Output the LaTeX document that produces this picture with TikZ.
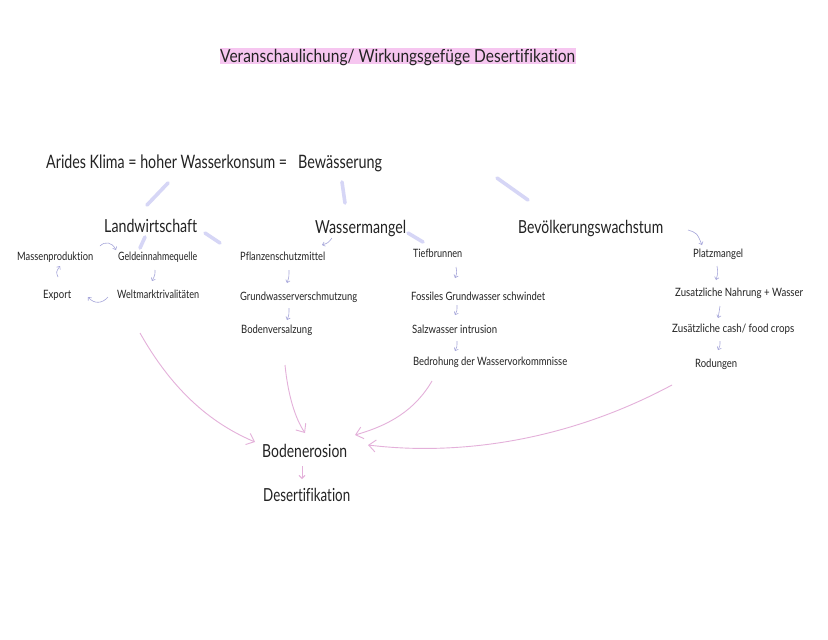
\documentclass[tikz,border=0pt]{standalone}
\usepackage{fontspec}
\setmainfont{Lato}[Ligatures={NoCommon}]
\usetikzlibrary{arrows.meta}
\definecolor{ink}{RGB}{35,35,35}
\definecolor{lav}{RGB}{214,214,246}
\definecolor{lavthin}{RGB}{165,165,218}
\definecolor{pinkline}{RGB}{228,176,218}
\definecolor{hl}{RGB}{246,198,240}
\newcommand{\tw}[2]{\resizebox{#1pt}{\height}{#2}}
\tikzset{
  txt/.style={text=ink, inner sep=0pt, anchor=base west},
  hugetxt/.style={txt, font=\fontsize{18.5}{22}\selectfont},
  bigtxt/.style={txt, font=\fontsize{18}{22}\selectfont},
  smalltxt/.style={txt, font=\fontsize{11.5}{14}\selectfont},
  thickline/.style={draw=lav, line width=3.6pt, line cap=round},
  tinyarrow/.style={draw=lavthin, line width=0.6pt, -{Straight Barb[length=2.5pt,width=4.5pt]}},
  pinkarrow/.style={draw=pinkline, line width=0.9pt, -{Straight Barb[length=7pt,width=12pt]}},
}
\begin{document}
\begin{tikzpicture}[x=1pt,y=-1pt]
\fill[white] (0,0) rectangle (828,640);
\useasboundingbox (0,0) rectangle (828,640);

% title
\fill[hl] (220,48) rectangle (576,63.5);
\node[bigtxt] (title) at (220,62) {\tw{355}{Veranschaulichung/ Wirkungsgefüge Desertifikation}};

% main line
\node[hugetxt] (klima) at (46,168) {\tw{241}{Arides Klima = hoher Wasserkonsum =}};
\node[hugetxt] (bew) at (298,168) {\tw{84}{Bewässerung}};

\node[bigtxt] (land) at (104,232) {\tw{93}{Landwirtschaft}};
\node[bigtxt] (wasser) at (315,233) {\tw{91}{Wassermangel}};
\node[bigtxt] (bev) at (518,233) {\tw{145}{Bevölkerungswachstum}};

% Landwirtschaft cycle
\node[smalltxt] (massen) at (17,260) {\tw{76}{Massenproduktion}};
\node[smalltxt] (geld) at (118,260) {\tw{79}{Geldeinnahmequelle}};
\node[smalltxt] (export) at (43,298) {\tw{28}{Export}};
\node[smalltxt] (welt) at (117,298) {\tw{82}{Weltmarktrivalitäten}};

% Wassermangel left column
\node[smalltxt] (pflanz) at (240,260) {\tw{85}{Pflanzenschutzmittel}};
\node[smalltxt] (grundv) at (240,300) {\tw{117}{Grundwasserverschmutzung}};
\node[smalltxt] (bodenv) at (241,333) {\tw{71}{Bodenversalzung}};

% Wassermangel right column
\node[smalltxt] (tief) at (413,257) {\tw{49}{Tiefbrunnen}};
\node[smalltxt] (fossil) at (411,300) {\tw{134}{Fossiles Grundwasser schwindet}};
\node[smalltxt] (salz) at (412,333) {\tw{85}{Salzwasser intrusion}};
\node[smalltxt] (bedroh) at (413,365) {\tw{154}{Bedrohung der Wasservorkommnisse}};

% Bevoelkerung column
\node[smalltxt] (platz) at (693,257) {\tw{50}{Platzmangel}};
\node[smalltxt] (nahrung) at (675,296) {\tw{128}{Zusatzliche Nahrung + Wasser}};
\node[smalltxt] (cash) at (672,332) {\tw{122}{Zusätzliche cash/ food crops}};
\node[smalltxt] (rod) at (695,367) {\tw{42}{Rodungen}};

% result
\node[bigtxt] (erosion) at (262,457) {\tw{85}{Bodenerosion}};
\node[bigtxt] (desert) at (263,501) {\tw{87}{Desertifikation}};

% thick lavender strokes
\coordinate (k1) at (168,183); \coordinate (k1e) at (147,205);
\coordinate (b1) at (342,182); \coordinate (b1e) at (345,203);
\coordinate (v1) at (497,178); \coordinate (v1e) at (528,200);
\coordinate (la) at (145,237); \coordinate (lae) at (140,248);
\coordinate (lb) at (205,233); \coordinate (lbe) at (220,243);
\coordinate (wa) at (408,233); \coordinate (wae) at (423,242);
\draw[thickline] (k1) -- (k1e);
\draw[thickline] (b1) -- (b1e);
\draw[thickline] (v1) -- (v1e);
\draw[thickline] (la) -- (lae);
\draw[thickline] (lb) -- (lbe);
\draw[thickline] (wa) -- (wae);

% tiny arrows
\coordinate (t1s) at (100,246); \coordinate (t1e) at (116,250);
\draw[tinyarrow] (t1s) .. controls (105,241) and (112,242) .. (t1e);
\coordinate (t2s) at (155,270); \coordinate (t2e) at (152,281);
\draw[tinyarrow] (t2s) .. controls (155,275) .. (t2e);
\coordinate (t3s) at (108,297); \coordinate (t3e) at (88,297);
\draw[tinyarrow] (t3s) .. controls (102,304) and (94,304) .. (t3e);
\coordinate (t4s) at (58,277); \coordinate (t4e) at (60,266);
\draw[tinyarrow] (t4s) .. controls (56,272) .. (t4e);
\coordinate (t5s) at (332,238); \coordinate (t5e) at (322,245);
\draw[tinyarrow] (t5s) .. controls (328,243) .. (t5e);
\coordinate (t6s) at (289,270); \coordinate (t6e) at (287,283);
\draw[tinyarrow] (t6s) .. controls (289,277) .. (t6e);
\coordinate (t7s) at (289,308); \coordinate (t7e) at (287,320);
\draw[tinyarrow] (t7s) .. controls (289,315) .. (t7e);
\coordinate (t8s) at (456,267); \coordinate (t8e) at (455,278);
\draw[tinyarrow] (t8s) .. controls (457,273) .. (t8e);
\coordinate (t9s) at (457,305); \coordinate (t9e) at (455,315);
\draw[tinyarrow] (t9s) .. controls (457,311) .. (t9e);
\coordinate (t10s) at (457,341); \coordinate (t10e) at (455,351);
\draw[tinyarrow] (t10s) .. controls (457,347) .. (t10e);
\coordinate (t11s) at (688,230); \coordinate (t11e) at (702,245);
\draw[tinyarrow] (t11s) .. controls (697,233) .. (t11e);
\coordinate (t12s) at (717,266); \coordinate (t12e) at (716,280);
\draw[tinyarrow] (t12s) .. controls (718,273) .. (t12e);
\coordinate (t13s) at (720,306); \coordinate (t13e) at (718,318);
\draw[tinyarrow] (t13s) .. controls (720,312) .. (t13e);
\coordinate (t14s) at (720,341); \coordinate (t14e) at (718,350);
\draw[tinyarrow] (t14s) .. controls (720,346) .. (t14e);

% pink arrows
\coordinate (p1s) at (140,333); \coordinate (p1e) at (255,442);
\draw[pinkarrow] (p1s) .. controls (175,395) and (215,425) .. (p1e);
\coordinate (p2s) at (285,365); \coordinate (p2e) at (305,433);
\draw[pinkarrow] (p2s) .. controls (288,395) and (295,418) .. (p2e);
\coordinate (p3s) at (432,381); \coordinate (p3e) at (355,435);
\draw[pinkarrow] (p3s) .. controls (415,410) and (390,425) .. (p3e);
\coordinate (p4s) at (672,385); \coordinate (p4e) at (368,445);
\draw[pinkarrow] (p4s) .. controls (560,445) and (450,455) .. (p4e);
\coordinate (p5s) at (302,466); \coordinate (p5e) at (302,479);
\draw[pinkarrow, -{Straight Barb[length=3pt,width=6pt]}] (p5s) -- (p5e);
\end{tikzpicture}
\end{document}
